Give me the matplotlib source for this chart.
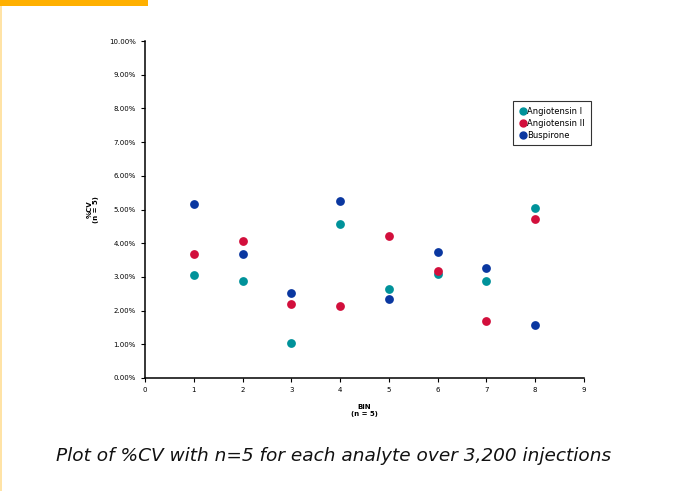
import matplotlib.pyplot as plt
from matplotlib.ticker import PercentFormatter
from matplotlib.patches import Rectangle
from matplotlib.lines import Line2D

bins = [1, 2, 3, 4, 5, 6, 7, 8]
angiotensin_1 = [3.06, 2.88, 1.04, 4.57, 2.64, 3.10, 2.88, 5.04]
angiotensin_2 = [3.68, 4.07, 2.20, 2.14, 4.21, 3.17, 1.69, 4.72]
buspirone = [5.16, 3.68, 2.52, 5.25, 2.34, 3.74, 3.26, 1.57]
series_names = ['Angiotensin I', 'Angiotensin II', 'Buspirone']
colors = ['#00929a', '#d20f3c', '#0a37a0']

fig = plt.figure(figsize=(6.8, 4.91), dpi=100)

# decorative slide bits
fig.patches.append(Rectangle((0, 1 - 6 / 491), 148 / 680, 6 / 491, transform=fig.transFigure,
                             facecolor='#ffb000', linewidth=0, zorder=0))
fig.patches.append(Rectangle((0, 0), 2 / 680, 1 - 6 / 491, transform=fig.transFigure,
                             facecolor='#ffe3a6', linewidth=0, zorder=0))

ax = fig.add_axes([145 / 680, 1 - 378 / 491, 439 / 680, 337 / 491])

for vals, name, c in zip([angiotensin_1, angiotensin_2, buspirone], series_names, colors):
    ax.scatter(bins, vals, s=40, color=c, label=name, zorder=3, linewidths=0)

ax.set_xlim(0, 9)
ax.set_ylim(0, 10)
ax.set_xticks(range(10))
ax.set_yticks(range(11))
ax.yaxis.set_major_formatter(PercentFormatter(decimals=2))
ax.tick_params(labelsize=5, length=3, width=0.8, direction='out', colors='black')
ax.spines['top'].set_visible(False)
ax.spines['right'].set_visible(False)
ax.spines['left'].set_linewidth(1.1)
ax.spines['bottom'].set_linewidth(1.1)

ax.set_xlabel('BIN\n(n = 5)', fontsize=5, fontweight='bold', labelpad=8)
ax.set_ylabel('%CV\n(n = 5)', fontsize=5, fontweight='bold', labelpad=7)

handles = [Line2D([], [], marker='o', linestyle='', color=c, markersize=5) for c in colors]
leg = ax.legend(handles, series_names, loc='upper left', bbox_to_anchor=(0.838, 0.822),
                fontsize=6, frameon=True, fancybox=False, edgecolor='black',
                handletextpad=0.0, handlelength=1.0, borderpad=0.7, labelspacing=0.35,
                borderaxespad=0)
leg.get_frame().set_linewidth(0.8)

fig.text(333.5 / 680, 1 - 456 / 491, 'Plot of %CV with n=5 for each analyte over 3,200 injections',
         ha='center', va='center', fontsize=13.3, style='italic', family='DejaVu Sans', color='#111111')

fig.savefig('out.png', dpi=100)
